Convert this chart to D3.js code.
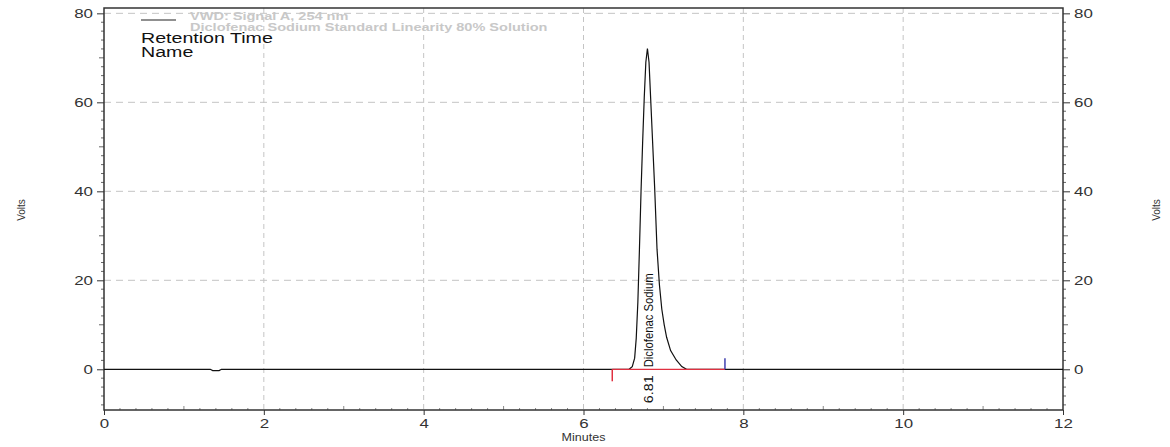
<!DOCTYPE html>
<html lang="en">
	<head>
		<meta charset="utf-8">
		<title>Diclofenac Sodium Chromatogram</title>
		<script type="text/javascript" src="https://cdn.jsdelivr.net/npm/d3@7"></script>
		<style type="text/css">
			body { margin: 0; background: #fff; }
			text { font-family: "Liberation Sans", Arial, sans-serif; }
		</style>
	</head>
	<body>
		<div id="chart"></div>
		<script type="text/javascript">

			//Data
			var traceTime  = [0, 1.33, 1.36, 1.44, 1.47, 6.57, 6.61, 6.64, 6.66, 6.68, 6.70, 6.72, 6.74, 6.76, 6.78, 6.80, 6.82, 6.84, 6.86, 6.89, 6.92, 6.95, 6.98, 7.01, 7.04, 7.09, 7.16, 7.23, 7.29, 12];
			var traceVolts = [0, 0, -0.3, -0.3, 0, 0, 0.6, 2.5, 7, 15, 27, 40, 51, 61, 69, 72.1, 69, 61, 53, 41, 27, 19, 13.5, 10, 7.2, 4.2, 2.1, 0.6, 0, 0];

			var peakNames = ["Diclofenac Sodium"];
			var peakRT    = [6.81];
			var peakStart = [6.36];
			var peakEnd   = [7.77];

			var xTicks = [0, 2, 4, 6, 8, 10, 12];
			var yTicks = [0, 20, 40, 60, 80];

			var headerLines = ["VWD: Signal A, 254 nm", "Diclofenac Sodium Standard Linearity 80% Solution"];
			var legendLines = ["Retention Time", "Name"];

			//Width and height
			var w = 1170;
			var h = 447;

			//the original picture is stretched sideways, so text gets widened
			var stretch = 1.3;
			function widen(sel, k) {
				sel.each(function(){
					var len = this.getComputedTextLength();
					d3.select(this)
					  .attr("textLength", len * k)
					  .attr("lengthAdjust", "spacingAndGlyphs");
				});
			}

			var x = d3.scaleLinear().domain([0, 12]).range([104, 1063]);
			var y = d3.scaleLinear().domain([-9.15, 81.2]).range([410, 8]);

			//Create SVG element
			var svg = d3.select("#chart")
						.append("svg")
						.attr("width", w)
						.attr("height", h);

			//grid
			svg.selectAll(".vgrid")
			   .data(xTicks.filter(function(d){ return d > 0 && d < 12; }))
			   .enter()
			   .append("line")
			   .attr("class", "vgrid")
			   .attr("x1", function(d){ return x(d); })
			   .attr("x2", function(d){ return x(d); })
			   .attr("y1", y(81.2))
			   .attr("y2", y(-9.15))
			   .attr("stroke", "#c4c4c4")
			   .attr("stroke-dasharray", "5,4");

			svg.selectAll(".hgrid")
			   .data(yTicks.filter(function(d){ return d > 0; }))
			   .enter()
			   .append("line")
			   .attr("class", "hgrid")
			   .attr("x1", x(0))
			   .attr("x2", x(12))
			   .attr("y1", function(d){ return y(d); })
			   .attr("y2", function(d){ return y(d); })
			   .attr("stroke", "#c4c4c4")
			   .attr("stroke-dasharray", "7,5");

			//axes
			var xMinor = d3.range(0, 12.001, 0.2).map(function(d){ return Math.round(d * 10) / 10; });
			var yMinor = d3.range(-8, 81, 2);

			var bottomAxis = d3.axisBottom(x).tickValues(xTicks).tickSize(5).tickPadding(4).tickFormat(d3.format("d"));
			var leftAxis = d3.axisLeft(y).tickValues(yTicks).tickSize(7).tickPadding(4);
			var rightAxis = d3.axisRight(y).tickValues(yTicks).tickSize(7).tickPadding(4);

			svg.append("g")
			   .attr("class", "axis")
			   .attr("transform", "translate(0," + y(-9.15) + ")")
			   .call(bottomAxis);

			svg.append("g")
			   .attr("class", "axis")
			   .attr("transform", "translate(" + x(0) + ",0)")
			   .call(leftAxis);

			svg.append("g")
			   .attr("class", "axis")
			   .attr("transform", "translate(" + x(12) + ",0)")
			   .call(rightAxis);

			svg.selectAll(".axis path").remove();
			svg.selectAll(".axis line").attr("stroke", "#333");
			svg.selectAll(".axis text")
			   .attr("font-family", "Liberation Sans, Arial, sans-serif")
			   .attr("font-size", 13)
			   .attr("fill", "#333")
			   .call(widen, stretch);

			//minor ticks
			svg.selectAll(".xminor")
			   .data(xMinor.filter(function(d){ return xTicks.indexOf(d) < 0; }))
			   .enter()
			   .append("line")
			   .attr("class", "xminor")
			   .attr("x1", function(d){ return x(d); })
			   .attr("x2", function(d){ return x(d); })
			   .attr("y1", y(-9.15))
			   .attr("y2", function(d){ return y(-9.15) - (d % 1 === 0 ? 4 : 2); })
			   .attr("stroke", "#888");

			svg.selectAll(".ylminor")
			   .data(yMinor.filter(function(d){ return yTicks.indexOf(d) < 0; }))
			   .enter()
			   .append("line")
			   .attr("class", "ylminor")
			   .attr("x1", x(0))
			   .attr("x2", function(d){ return x(0) - (d % 10 === 0 ? 5 : 3); })
			   .attr("y1", function(d){ return y(d); })
			   .attr("y2", function(d){ return y(d); })
			   .attr("stroke", "#666");

			svg.selectAll(".yrminor")
			   .data(yMinor.filter(function(d){ return yTicks.indexOf(d) < 0; }))
			   .enter()
			   .append("line")
			   .attr("class", "yrminor")
			   .attr("x1", x(12))
			   .attr("x2", function(d){ return x(12) + (d % 10 === 0 ? 5 : 3); })
			   .attr("y1", function(d){ return y(d); })
			   .attr("y2", function(d){ return y(d); })
			   .attr("stroke", "#666");

			//frame
			svg.append("rect")
			   .attr("x", x(0))
			   .attr("y", y(81.2))
			   .attr("width", x(12) - x(0))
			   .attr("height", y(-9.15) - y(81.2))
			   .attr("fill", "none")
			   .attr("stroke", "#333")
			   .attr("stroke-width", 1.5);

			//axis titles
			svg.append("text")
			   .attr("transform", "translate(25,210) rotate(-90)")
			   .attr("text-anchor", "middle")
			   .attr("font-size", 10)
			   .attr("fill", "#333")
			   .text("Volts");

			svg.append("text")
			   .attr("transform", "translate(1160,210) rotate(-90)")
			   .attr("text-anchor", "middle")
			   .attr("font-size", 10)
			   .attr("fill", "#333")
			   .text("Volts");

			svg.append("text")
			   .attr("x", (x(0) + x(12)) / 2)
			   .attr("y", 441)
			   .attr("text-anchor", "middle")
			   .attr("font-size", 10)
			   .attr("fill", "#333")
			   .text("Minutes")
			   .call(widen, 1.25);

			//trace
			var line = d3.line()
						 .x(function(d, i){ return x(traceTime[i]); })
						 .y(function(d){ return y(d); });

			svg.append("path")
			   .datum(traceVolts)
			   .attr("d", line)
			   .attr("fill", "none")
			   .attr("stroke", "#111")
			   .attr("stroke-width", 1.2);

			//peak baseline + start/end marks
			svg.selectAll(".pbase")
			   .data(peakStart)
			   .enter()
			   .append("line")
			   .attr("class", "pbase")
			   .attr("x1", function(d){ return x(d); })
			   .attr("x2", function(d, i){ return x(peakEnd[i]); })
			   .attr("y1", y(0))
			   .attr("y2", y(0))
			   .attr("stroke", "#e03040")
			   .attr("stroke-width", 1.2);

			svg.selectAll(".pstart")
			   .data(peakStart)
			   .enter()
			   .append("line")
			   .attr("class", "pstart")
			   .attr("x1", function(d){ return x(d); })
			   .attr("x2", function(d){ return x(d); })
			   .attr("y1", y(0))
			   .attr("y2", y(0) + 12)
			   .attr("stroke", "#e03040")
			   .attr("stroke-width", 1.5);

			svg.selectAll(".pend")
			   .data(peakEnd)
			   .enter()
			   .append("line")
			   .attr("class", "pend")
			   .attr("x1", function(d){ return x(d); })
			   .attr("x2", function(d){ return x(d); })
			   .attr("y1", y(0))
			   .attr("y2", y(0) - 11)
			   .attr("stroke", "#4040b0")
			   .attr("stroke-width", 1.5);

			//peak labels
			svg.selectAll(".pname")
			   .data(peakNames)
			   .enter()
			   .append("text")
			   .attr("class", "pname")
			   .attr("transform", function(d, i){ return "translate(" + (x(peakRT[i]) + 5) + "," + (y(0) - 2) + ") rotate(-90)"; })
			   .attr("font-size", 12.5)
			   .attr("textLength", 94)
			   .attr("lengthAdjust", "spacingAndGlyphs")
			   .attr("fill", "#111")
			   .text(function(d){ return d; });

			svg.selectAll(".prt")
			   .data(peakRT)
			   .enter()
			   .append("text")
			   .attr("class", "prt")
			   .attr("transform", function(d){ return "translate(" + (x(d) + 5) + "," + (y(0) + 6) + ") rotate(-90)"; })
			   .attr("text-anchor", "end")
			   .attr("font-size", 12.5)
			   .attr("fill", "#111")
			   .text(function(d){ return d3.format(".2f")(d); })
			   .call(widen, 1.15);

			//header
			svg.selectAll(".header")
			   .data(headerLines)
			   .enter()
			   .append("text")
			   .attr("class", "header")
			   .attr("x", 190)
			   .attr("y", function(d, i){ return 20 + i * 11; })
			   .attr("font-size", 11)
			   .attr("font-weight", "bold")
			   .attr("fill", "#c8c8c8")
			   .text(function(d){ return d; })
			   .call(widen, 1.32);

			svg.append("line")
			   .attr("x1", 141)
			   .attr("x2", 176)
			   .attr("y1", 20)
			   .attr("y2", 20)
			   .attr("stroke", "#222")
			   .attr("stroke-width", 1.2);

			svg.selectAll(".legend")
			   .data(legendLines)
			   .enter()
			   .append("text")
			   .attr("class", "legend")
			   .attr("x", 141)
			   .attr("y", function(d, i){ return 43 + i * 14; })
			   .attr("font-size", 14)
			   .attr("fill", "#111")
			   .text(function(d){ return d; })
			   .call(widen, 1.4);

		</script>
	</body>
</html>
